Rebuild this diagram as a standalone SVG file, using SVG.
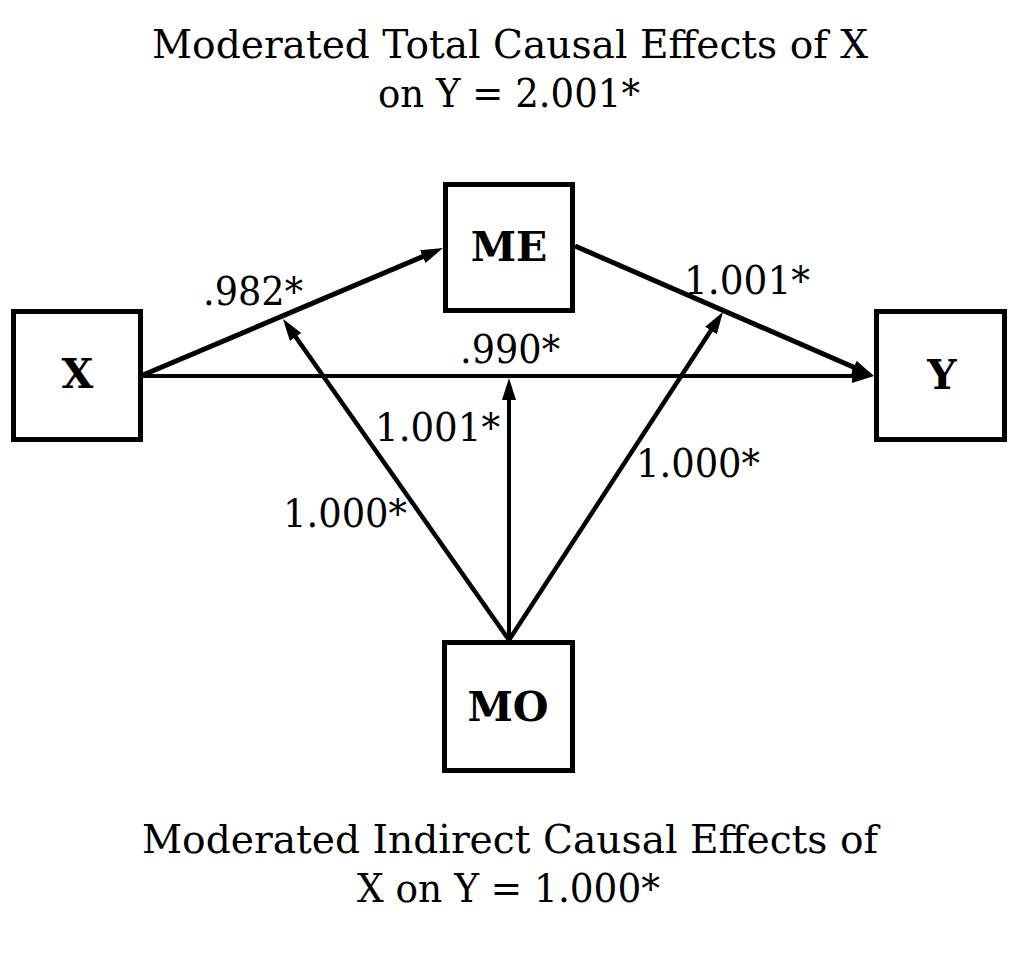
<svg xmlns="http://www.w3.org/2000/svg" width="1024" height="953" viewBox="0 0 1024 953">
<style>
.box{fill:#fff;stroke:#000;stroke-width:5}
.node{font-family:"DejaVu Serif","Liberation Serif",serif;font-weight:bold;font-size:41px;text-anchor:middle;fill:#000}
.t{font-family:"DejaVu Serif","Liberation Serif",serif;font-size:40px;fill:#000}
.c{stroke:#000;fill:none;marker-end:url(#ah)}
</style>
<defs>
<marker id="ah" markerUnits="userSpaceOnUse" markerWidth="22" markerHeight="14" refX="10" refY="7" orient="auto">
<path d="M0,0 L22,7 L0,14 z" fill="#000"/>
</marker>
</defs>
<rect width="1024" height="953" fill="#fff"/>
<g id="title">
<text class="t" x="152" y="58" textLength="716" lengthAdjust="spacingAndGlyphs">Moderated Total Causal Effects of X</text>
<text class="t" x="378" y="107" textLength="262" lengthAdjust="spacingAndGlyphs">on Y = 2.001*</text>
</g>
<g id="footer">
<text class="t" x="142" y="853" textLength="736" lengthAdjust="spacingAndGlyphs">Moderated Indirect Causal Effects of</text>
<text class="t" x="357" y="902" textLength="303" lengthAdjust="spacingAndGlyphs">X on Y = 1.000*</text>
</g>
<g id="connectors">
<line class="c" x1="143" y1="375" x2="431.95" y2="252.68" stroke-width="5"/>
<line class="c" x1="575" y1="246" x2="863" y2="371.2" stroke-width="5"/>
<line class="c" x1="143" y1="376" x2="862" y2="376" stroke-width="4"/>
<line class="c" x1="509" y1="640" x2="289.9" y2="328.8" stroke-width="4.5"/>
<line class="c" x1="509" y1="640" x2="509" y2="390" stroke-width="4"/>
<line class="c" x1="509" y1="640" x2="716.4" y2="322.1" stroke-width="4.5"/>
</g>
<g id="labels">
<text class="t" x="203" y="305" textLength="100" lengthAdjust="spacingAndGlyphs">.982*</text>
<text class="t" x="684" y="294" textLength="126" lengthAdjust="spacingAndGlyphs">1.001*</text>
<text class="t" x="460" y="363" textLength="100" lengthAdjust="spacingAndGlyphs">.990*</text>
<text class="t" x="375" y="441" textLength="125" lengthAdjust="spacingAndGlyphs">1.001*</text>
<text class="t" x="283" y="527" textLength="124" lengthAdjust="spacingAndGlyphs">1.000*</text>
<text class="t" x="636" y="477" textLength="124" lengthAdjust="spacingAndGlyphs">1.000*</text>
</g>
<g id="node-X">
<rect class="box" x="13.5" y="311.5" width="127" height="128"/>
<text class="node" x="77.5" y="388">X</text>
</g>
<g id="node-ME">
<rect class="box" x="445.5" y="184.5" width="127" height="126"/>
<text class="node" x="509" y="261">ME</text>
</g>
<g id="node-Y">
<rect class="box" x="876.5" y="311.5" width="128" height="128"/>
<text class="node" x="942" y="389">Y</text>
</g>
<g id="node-MO">
<rect class="box" x="444.5" y="642.5" width="128" height="128"/>
<text class="node" x="508" y="721">MO</text>
</g>
</svg>
